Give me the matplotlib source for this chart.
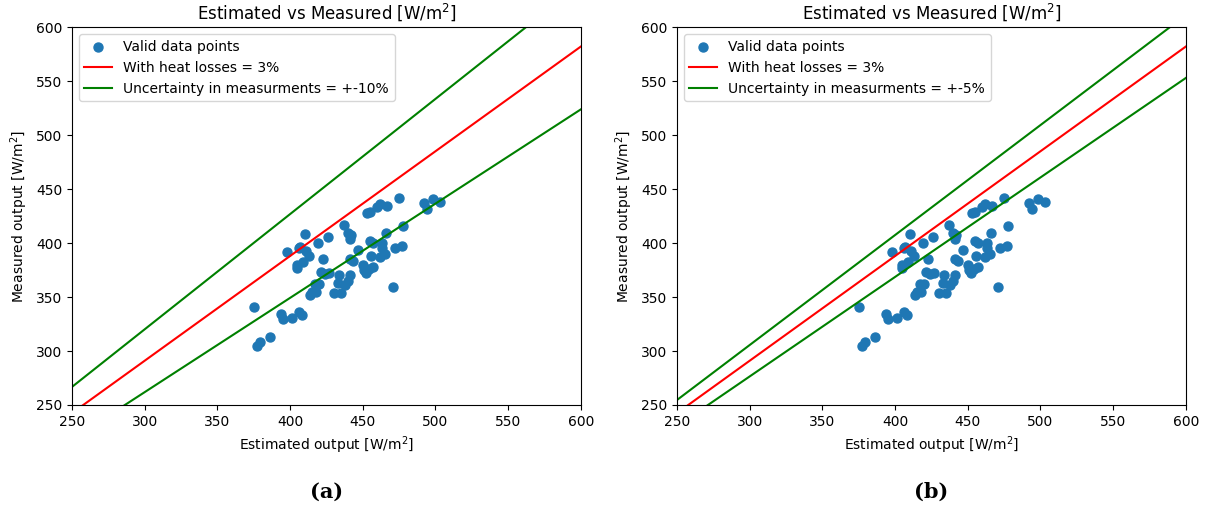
import matplotlib.pyplot as plt
import numpy as np

# Estimated vs measured output [W/m2], one point per valid measurement
estimated = [375, 377, 379, 386, 394, 395, 401, 406, 408, 398, 405, 405, 406, 407,
             409, 411, 410, 414, 415, 417, 418, 413, 419, 421, 420, 423, 424, 426,
             427, 430, 433, 434, 435, 437, 438, 440, 440, 441, 442, 441, 443, 441,
             447, 450, 451, 452, 454, 453, 455, 455, 457, 456, 457, 460, 462, 463,
             463, 462, 465, 466, 467, 471, 472, 475, 477, 478, 492, 494, 498, 503]
measured = [341, 305, 308, 313, 334, 330, 331, 336, 333, 392, 377, 380, 395, 396,
            382, 393, 408, 352, 355, 362, 355, 388, 400, 373, 362, 385, 371, 406,
            372, 354, 363, 370, 354, 417, 361, 365, 409, 404, 407, 385, 383, 370,
            394, 380, 375, 372, 376, 428, 429, 402, 400, 388, 378, 433, 436, 400,
            395, 387, 390, 409, 434, 359, 395, 442, 397, 416, 437, 432, 441, 438]

heat_loss = 0.03
uncertainties = [0.10, 0.05]
captions = ["(a)", "(b)"]
axis_min, axis_max = 250, 600


def draw_panel(ax, uncertainty):
    ax.scatter(estimated, measured, s=42, color="tab:blue", label="Valid data points")

    x = np.array([axis_min, axis_max])
    factor = 1 - heat_loss
    ax.plot(x, factor * x, color="red", label=f"With heat losses = {heat_loss:.0%}")
    ax.plot(x, factor * (1 + uncertainty) * x, color="green",
            label=f"Uncertainty in measurments = +-{uncertainty:.0%}")
    ax.plot(x, factor * (1 - uncertainty) * x, color="green")

    ax.set_xlim(axis_min, axis_max)
    ax.set_ylim(axis_min, axis_max)
    ax.set_title("Estimated vs Measured [W/m$^2$]", fontsize=12)
    ax.set_xlabel("Estimated output [W/m$^2$]", fontsize=10)
    ax.set_ylabel("Measured output [W/m$^2$]", fontsize=10)
    ax.tick_params(labelsize=10)
    ax.legend(loc="upper left", fontsize=10)


fig = plt.figure(figsize=(12.1, 5.12), dpi=100)
lefts = [0.0595, 0.5595]
for left, uncertainty, caption in zip(lefts, uncertainties, captions):
    ax = fig.add_axes([left, 0.209, 0.4205, 0.738])
    draw_panel(ax, uncertainty)
    fig.text(left + 0.4205 / 2, 0.04, caption, ha="center", va="center",
             fontsize=15, fontweight="bold", family="DejaVu Serif")

fig.savefig("out.png", dpi=100)
